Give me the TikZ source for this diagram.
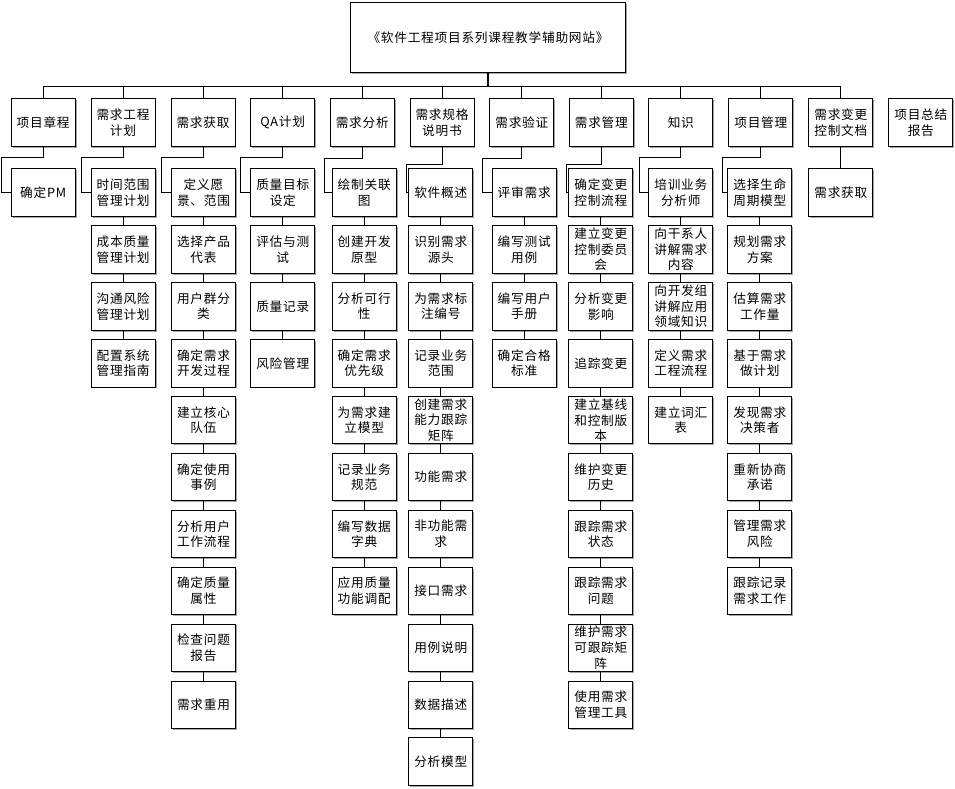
\documentclass[tikz,border=0pt]{standalone}
\usepackage{fontspec}
\setmainfont[LetterSpace=6]{Noto Sans CJK SC}
\usetikzlibrary{shadows}
\newcommand\mkcol[3]{%
  \foreach \t [count=\k from 0] in {#3} {%
    \node[box] (c#1-\k) at (#2, {192.55+56.9*\k}) {\t};
    \ifnum\k>0
      \pgfmathtruncatemacro\pk{\k-1}
      \draw[conn] (c#1-\pk.south) -- (c#1-\k.north);
    \fi
  }%
}
\begin{document}
\begin{tikzpicture}[x=0.75pt,y=-0.75pt,
  box/.style={draw=black, line width=0.6pt, fill=white, minimum width=48pt,
    minimum height=35.6pt, inner sep=0pt, align=center,
    font=\fontsize{9.5}{11.7}\selectfont,
    drop shadow={shadow xshift=1.1pt, shadow yshift=-1.1pt, fill=gray!70, opacity=1}},
  conn/.style={draw=black, line width=0.75pt}]
\useasboundingbox (0,0) rectangle (955,788);

% root
\node[box, minimum width=206pt, minimum height=52.5pt] (root) at (488,37.5)
  {《软件工程项目系列课程教学辅助网站》};

% level 1
\foreach \i/\x/\t in {0/43.2/项目章程, 1/123/{需求工程\\计划}, 2/203/需求获取,
  3/282.7/QA计划, 4/362.3/需求分析, 5/442/{需求规格\\说明书}, 6/521.8/需求验证,
  7/601.3/需求管理, 8/680.8/知识, 9/760.8/项目管理, 10/840.8/{需求变更\\控制文档},
  11/920.8/{项目总结\\报告}} {
  \node[box] (p\i) at (\x,122.5) {\t};
}
\foreach \i/\x in {0/43.2, 1/123, 2/203, 3/282.7, 4/362.3, 5/442, 6/521.8,
  7/601.3, 8/680.8, 9/760.8, 10/840.8} {
  \coordinate (b\i) at (\x,87);
  \draw[conn] (b\i) -- (p\i.north);
}
\draw[conn] (b0) -- (b10);
\draw[draw=black, line width=1.4pt] (root.south) -- (root.south |- b0);

% columns
\mkcol{0}{43.2}{确定PM}
\mkcol{1}{123.2}{{时间范围\\管理计划}, {成本质量\\管理计划}, {沟通风险\\管理计划}, {配置系统\\管理指南}}
\mkcol{2}{203.5}{{定义愿\\景、范围}, {选择产品\\代表}, {用户群分\\类}, {确定需求\\开发过程},
  {建立核心\\队伍}, {确定使用\\事例}, {分析用户\\工作流程}, {确定质量\\属性}, {检查问题\\报告}, 需求重用}
\mkcol{3}{282.8}{{质量目标\\设定}, {评估与测\\试}, 质量记录, 风险管理}
\mkcol{4}{364.2}{{绘制关联\\图}, {创建开发\\原型}, {分析可行\\性}, {确定需求\\优先级},
  {为需求建\\立模型}, {记录业务\\规范}, {编写数据\\字典}, {应用质量\\功能调配}}
\mkcol{5}{440.8}{软件概述, {识别需求\\源头}, {为需求标\\注编号}, {记录业务\\范围},
  {创建需求\\能力跟踪\\矩阵}, 功能需求, {非功能需\\求}, 接口需求, 用例说明, 数据描述, 分析模型}
\mkcol{6}{524.2}{评审需求, {编写测试\\用例}, {编写用户\\手册}, {确定合格\\标准}}
\mkcol{7}{600.8}{{确定变更\\控制流程}, {建立变更\\控制委员\\会}, {分析变更\\影响}, 追踪变更,
  {建立基线\\和控制版\\本}, {维护变更\\历史}, {跟踪需求\\状态}, {跟踪需求\\问题},
  {维护需求\\可跟踪矩\\阵}, {使用需求\\管理工具}}
\mkcol{8}{680.8}{{培训业务\\分析师}, {向干系人\\讲解需求\\内容}, {向开发组\\讲解应用\\领域知识},
  {定义需求\\工程流程}, {建立词汇\\表}}
\mkcol{9}{759.8}{{选择生命\\周期模型}, {规划需求\\方案}, {估算需求\\工作量}, {基于需求\\做计划},
  {发现需求\\决策者}, {重新协商\\承诺}, {管理需求\\风险}, {跟踪记录\\需求工作}}
\mkcol{10}{840.8}{需求获取}

% elbow connectors parent -> first child
\foreach \i/\d/\l in {0/10.7/6.75pt, 1/10.7/7pt, 2/10.7/7pt, 3/10.7/7.2pt, 4/12.3/5.8pt,
  5/18/1.7pt, 6/12.3/7pt, 7/18/1.3pt, 8/10.7/6.75pt, 9/10.7/3.75pt} {
  \draw[conn] (p\i.south) -- ++(0,\d) -| ([xshift=-\l]c\i-0.west) -- (c\i-0.west);
}
\draw[conn] (p10.south) -- (c10-0.north);
\end{tikzpicture}
\end{document}
